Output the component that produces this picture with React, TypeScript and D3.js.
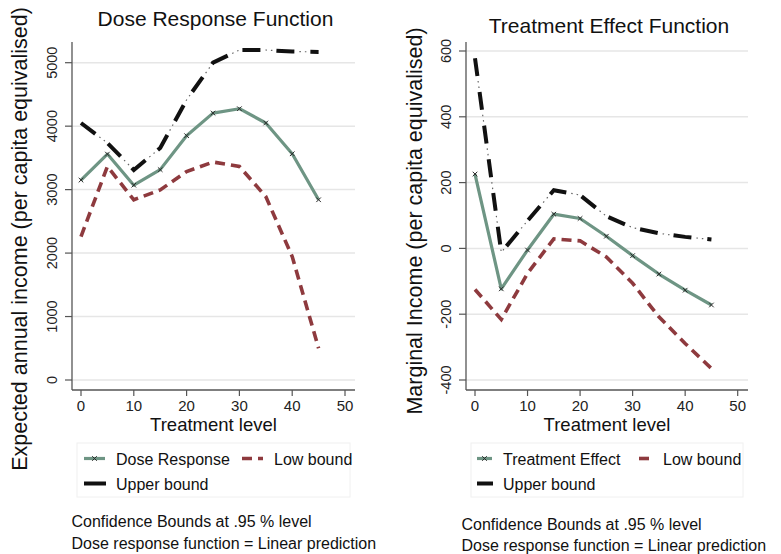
import React from "react";
import * as d3 from "d3";

// ---- Data ----
const doses = [0, 5, 10, 15, 20, 25, 30, 35, 40, 45];

const doseResponse = [3150, 3560, 3070, 3315, 3850, 4205, 4275, 4050, 3565, 2840];
const doseLow = [2260, 3365, 2840, 2995, 3285, 3435, 3365, 2890, 1945, 500];
const doseUpper = [4050, 3735, 3310, 3655, 4415, 5000, 5200, 5200, 5175, 5170];

const treatEffect = [226, -123, -5, 104, 91, 37, -22, -78, -127, -172];
const treatLow = [-125, -216, -76, 29, 23, -26, -106, -208, -289, -365];
const treatUpper = [578, -12, 84, 177, 162, 98, 63, 46, 35, 27];

const xTicks = [0, 10, 20, 30, 40, 50];
const leftYTicks = [0, 1000, 2000, 3000, 4000, 5000];
const rightYTicks = [-400, -200, 0, 200, 400, 600];

const GREEN = "#6e9584";
const RED = "#8e3a3e";
const BLACK = "#111";
const FONT = "Liberation Sans, Arial, sans-serif";
const NARROW = "Liberation Sans Narrow, Arial Narrow, Liberation Sans, sans-serif";

type PanelProps = {
  title: string;
  titleY: number;
  yTitle: string;
  yTitleX: number;
  yTitleY: number;
  axisX: number;
  axisRight: number;
  x0: number;
  x50: number;
  yDomain: [number, number];
  yRange: [number, number];
  yTicks: number[];
  mid: number[];
  low: number[];
  up: number[];
  legendBox: [number, number, number, number];
  legendMain: string;
  mainKey: [number, number];
  lowKey: [number, number];
  lowText: number;
  mainText: number;
  notesX: number;
  notesY: [number, number];
};

function XMark({ x, y }: { x: number; y: number }) {
  const s = 2.3;
  return (
    <g stroke="#2a2a2a" strokeWidth={1}>
      <line x1={x - s} y1={y - s} x2={x + s} y2={y + s} />
      <line x1={x - s} y1={y + s} x2={x + s} y2={y - s} />
    </g>
  );
}

function Panel(p: PanelProps) {
  const x = d3.scaleLinear().domain([0, 50]).range([p.x0, p.x50]);
  const y = d3.scaleLinear().domain(p.yDomain).range(p.yRange);
  const line = d3
    .line<number>()
    .x((_, i) => x(doses[i]))
    .y((v) => y(v));
  const axisBottom = 390;
  const axisTop = 42;
  const cx = (p.axisX + p.axisRight) / 2;
  const [bx, by, bw, bh] = p.legendBox;
  const row1 = by + 16;
  const row2 = by + 41;
  return (
    <g>
      <text x={cx + 2} y={p.titleY} textAnchor="middle" fontSize={21} fontFamily={FONT} fill="#111">
        {p.title}
      </text>
      {/* gridlines */}
      {p.yTicks.map((t) => (
        <line key={"g" + t} x1={p.axisX} x2={p.axisRight} y1={y(t)} y2={y(t)} stroke="#e6e6e6" strokeWidth={1.5} />
      ))}
      {/* axes */}
      <line x1={p.axisX} x2={p.axisX} y1={axisTop} y2={axisBottom} stroke="#555" strokeWidth={1.3} />
      <line x1={p.axisX} x2={p.axisRight} y1={axisBottom} y2={axisBottom} stroke="#555" strokeWidth={1.3} />
      {p.yTicks.map((t) => (
        <g key={"y" + t}>
          <line x1={p.axisX - 7} x2={p.axisX} y1={y(t)} y2={y(t)} stroke="#555" strokeWidth={1.2} />
          <text
            transform={`translate(${p.axisX - 15},${y(t)}) rotate(-90)`}
            textAnchor="middle"
            fontSize={14.5}
            fontFamily={NARROW}
            fill="#222"
          >
            {t}
          </text>
        </g>
      ))}
      {xTicks.map((t) => (
        <g key={"x" + t}>
          <line x1={x(t)} x2={x(t)} y1={axisBottom} y2={axisBottom + 6} stroke="#555" strokeWidth={1.2} />
          <text x={x(t)} y={axisBottom + 21} textAnchor="middle" fontSize={15} fontFamily={NARROW} fill="#222">
            {t}
          </text>
        </g>
      ))}
      <text x={cx} y={431} textAnchor="middle" fontSize={18.5} fontFamily={FONT} fill="#111">
        Treatment level
      </text>
      <text
        transform={`translate(${p.yTitleX},${p.yTitleY}) rotate(-90)`}
        textAnchor="middle"
        fontSize={21.5}
        fontFamily={FONT}
        fill="#111"
      >
        {p.yTitle}
      </text>
      {/* series */}
      <path d={line(p.low) || ""} fill="none" stroke={RED} strokeWidth={3.6} strokeDasharray="10,6" />
      <path d={line(p.up) || ""} fill="none" stroke={BLACK} strokeWidth={4} strokeDasharray="18,16" />
      <path d={line(p.up) || ""} fill="none" stroke="#666" strokeWidth={1.2} strokeDasharray="0,23,1.5,4,1.5,4" />
      <path d={line(p.mid) || ""} fill="none" stroke={GREEN} strokeWidth={3.2} strokeLinejoin="round" />
      {p.mid.map((v, i) => (
        <XMark key={"m" + i} x={x(doses[i])} y={y(v)} />
      ))}
      {/* legend */}
      <rect x={bx} y={by} width={bw} height={bh} fill="none" stroke="#f0f0f0" strokeWidth={1} />
      <line x1={p.mainKey[0]} x2={p.mainKey[1]} y1={row1 - 0.5} y2={row1 - 0.5} stroke={GREEN} strokeWidth={3.2} />
      <XMark x={(p.mainKey[0] + p.mainKey[1]) / 2} y={row1 - 0.5} />
      <text x={p.mainText} y={row1 + 5.5} fontSize={16} fontFamily={FONT} fill="#111">
        {p.legendMain}
      </text>
      <line
        x1={p.lowKey[0]}
        x2={p.lowKey[1]}
        y1={row1 - 0.5}
        y2={row1 - 0.5}
        stroke={RED}
        strokeWidth={3.6}
        strokeDasharray="10,6"
      />
      <text x={p.lowText} y={row1 + 5.5} fontSize={16} fontFamily={FONT} fill="#111">
        Low bound
      </text>
      <line x1={p.mainKey[0]} x2={p.mainKey[1] + 1} y1={row2 - 0.5} y2={row2 - 0.5} stroke={BLACK} strokeWidth={4} />
      <text x={p.mainText} y={row2 + 5.5} fontSize={16} fontFamily={FONT} fill="#111">
        Upper bound
      </text>
      {/* notes */}
      <text x={p.notesX} y={p.notesY[0]} fontSize={16} fontFamily={FONT} fill="#111">
        Confidence Bounds at .95 % level
      </text>
      <text x={p.notesX} y={p.notesY[1]} fontSize={16} fontFamily={FONT} fill="#111">
        Dose response function = Linear prediction
      </text>
    </g>
  );
}

export default function App() {
  return (
    <svg
      width={781}
      height={554}
      style={{ position: "absolute", left: 0, top: 0, background: "#fff" }}
      xmlns="http://www.w3.org/2000/svg"
    >
      <rect width={781} height={554} fill="#fff" />
      <Panel
        title="Dose Response Function"
        titleY={26}
        yTitle="Expected annual income (per capita equivalised)"
        yTitleX={27}
        yTitleY={239}
        axisX={72}
        axisRight={355}
        x0={81}
        x50={345}
        yDomain={[0, 5000]}
        yRange={[380, 62.7]}
        yTicks={leftYTicks}
        mid={doseResponse}
        low={doseLow}
        up={doseUpper}
        legendBox={[77, 443, 273, 54]}
        legendMain="Dose Response"
        mainKey={[84, 105]}
        lowKey={[242, 263]}
        lowText={274}
        mainText={116}
        notesX={71.5}
        notesY={[527, 549]}
      />
      <Panel
        title="Treatment Effect Function"
        titleY={33}
        yTitle="Marginal Income (per capita equivalised)"
        yTitleX={422}
        yTitleY={221}
        axisX={466}
        axisRight={748}
        x0={475}
        x50={737.7}
        yDomain={[-400, 600]}
        yRange={[380, 51]}
        yTicks={rightYTicks}
        mid={treatEffect}
        low={treatLow}
        up={treatUpper}
        legendBox={[471, 443, 272, 54]}
        legendMain="Treatment Effect"
        mainKey={[477, 492]}
        lowKey={[639, 649]}
        lowText={663}
        mainText={503}
        notesX={461.5}
        notesY={[530, 551]}
      />
    </svg>
  );
}
